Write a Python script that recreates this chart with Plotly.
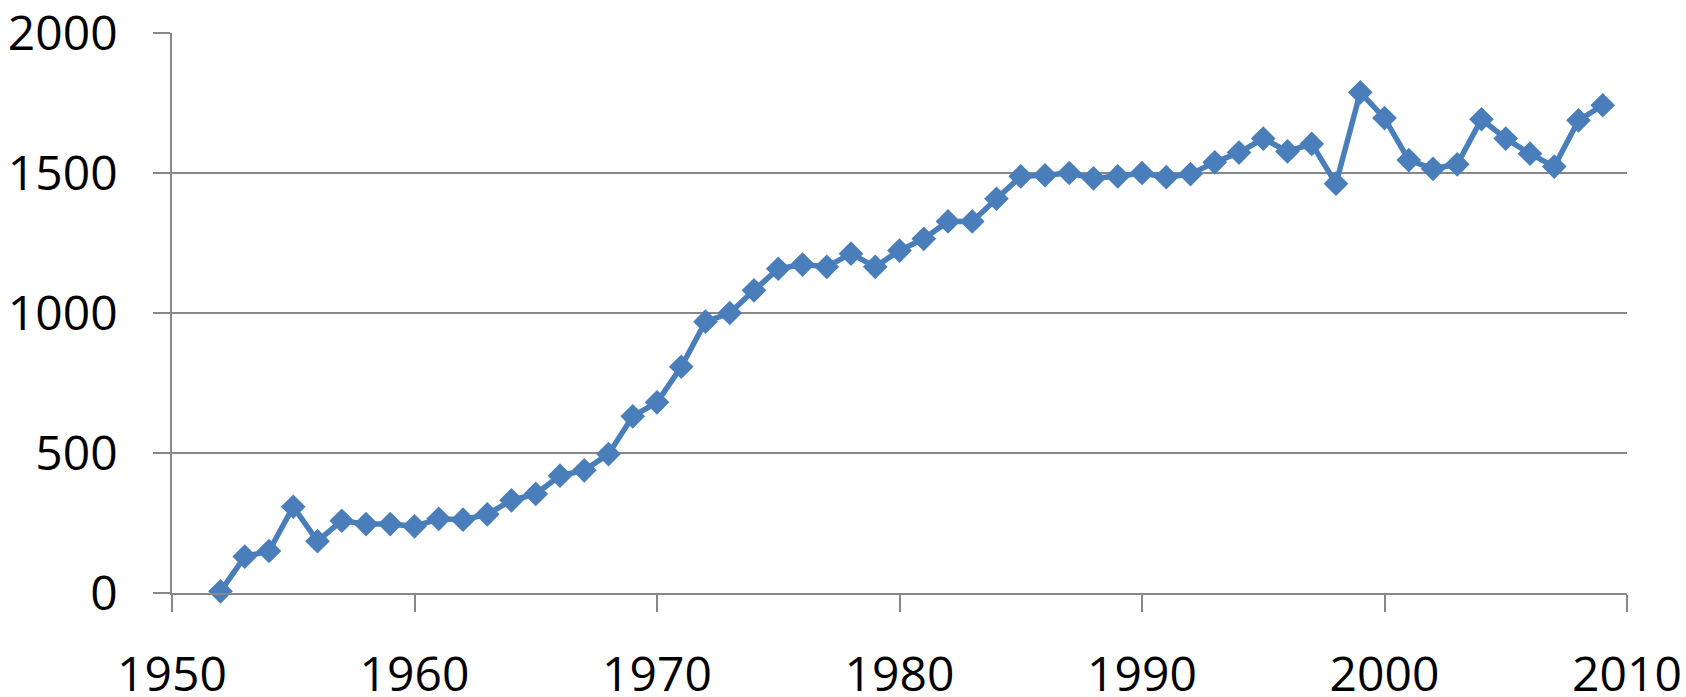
import plotly.graph_objects as go

years = list(range(1952, 2010))
values = [6, 130, 150, 308, 185, 258, 246, 246, 238, 265, 262, 281, 331, 354, 419, 438, 496,
          631, 681, 808, 969, 1000, 1081, 1158, 1173, 1165, 1212, 1165, 1223, 1265, 1327, 1327,
          1408, 1488, 1492, 1500, 1481, 1488, 1500, 1485, 1496, 1538, 1573, 1623, 1577, 1604,
          1462, 1788, 1696, 1546, 1515, 1531, 1692, 1623, 1569, 1523, 1688, 1742]

x_ticks = [1950, 1960, 1970, 1980, 1990, 2000, 2010]
y_ticks = [0, 500, 1000, 1500, 2000]

blue = "#4A7EBB"
grid = "#888888"

fig = go.Figure()
fig.add_trace(go.Scatter(
    x=years, y=values, mode="lines+markers",
    line=dict(color=blue, width=5.5),
    marker=dict(symbol="diamond", size=19, color=blue),
    showlegend=False, cliponaxis=False,
))

fig.update_layout(
    width=1686, height=697,
    margin=dict(l=172, r=59, t=33, b=104, autoexpand=False),
    paper_bgcolor="white", plot_bgcolor="white",
    font=dict(family="Open Sans", size=48, color="black"),
    xaxis=dict(
        range=[1950, 2010], tickvals=x_ticks, ticktext=[str(v) for v in x_ticks],
        showgrid=False, zeroline=False, showline=True, linecolor=grid, linewidth=1.5,
        ticks="outside", ticklen=17, tickcolor=grid, tickwidth=1.5,
        ticklabelstandoff=22, automargin=False, ticklabeloverflow="allow",
    ),
    yaxis=dict(
        range=[0, 2000], tickvals=y_ticks, ticktext=[str(v) for v in y_ticks],
        showgrid=True, gridcolor=grid, gridwidth=1.5, zeroline=False,
        showline=True, linecolor=grid, linewidth=1.5,
        ticks="outside", ticklen=17, tickcolor=grid, tickwidth=1.5,
        ticklabelstandoff=26, automargin=False, ticklabeloverflow="allow",
    ),
)

fig.write_html(
    "out.html",
    config={"displayModeBar": False},
    post_script="document.body.style.margin='0';document.body.style.overflow='hidden';",
)
